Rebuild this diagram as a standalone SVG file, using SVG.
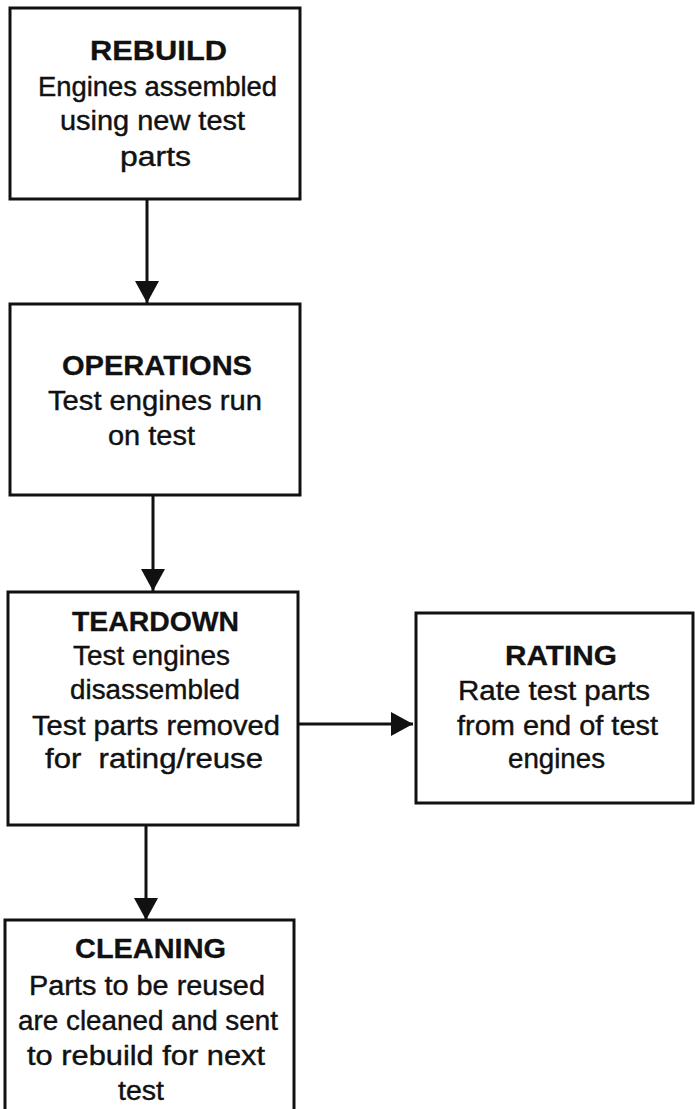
<svg xmlns="http://www.w3.org/2000/svg" width="695" height="1109" viewBox="0 0 695 1109">
<style>
.box{fill:#fff;stroke:#111;stroke-width:3}
.t{font-family:"Liberation Sans",Arial,sans-serif;font-size:27px;fill:#111;stroke:#111;stroke-width:0.4;text-anchor:middle}
.h{font-weight:bold;stroke-width:0.3}
.c{stroke:#111;stroke-width:3;fill:none}
</style>
<defs>
<marker id="ah" markerUnits="userSpaceOnUse" markerWidth="24" markerHeight="24" viewBox="0 0 24 24" refX="22" refY="12" orient="auto">
<path d="M0,0 L22,12 L0,24 Z" fill="#111"/>
</marker>
</defs>
<rect width="695" height="1109" fill="#fff"/>
<g id="connectors">
<line class="c" x1="147" y1="200" x2="147" y2="303" marker-end="url(#ah)"/>
<line class="c" x1="153" y1="495" x2="153" y2="591" marker-end="url(#ah)"/>
<line class="c" x1="298" y1="724" x2="413" y2="724" marker-end="url(#ah)"/>
<line class="c" x1="146" y1="825" x2="146" y2="920" marker-end="url(#ah)"/>
</g>
<g id="rebuild">
<rect class="box" x="10" y="8" width="290" height="191"/>
<text class="t h" x="158.5" y="60" textLength="137" lengthAdjust="spacingAndGlyphs">REBUILD</text>
<text class="t" x="157.5" y="95.5" textLength="239" lengthAdjust="spacingAndGlyphs">Engines assembled</text>
<text class="t" x="152.5" y="130" textLength="185" lengthAdjust="spacingAndGlyphs">using new test</text>
<text class="t" x="155.5" y="166" textLength="71" lengthAdjust="spacingAndGlyphs">parts</text>
</g>
<g id="operations">
<rect class="box" x="10" y="304" width="290" height="191"/>
<text class="t h" x="157" y="375" textLength="190" lengthAdjust="spacingAndGlyphs">OPERATIONS</text>
<text class="t" x="155" y="410" textLength="214" lengthAdjust="spacingAndGlyphs">Test engines run</text>
<text class="t" x="151.5" y="445" textLength="87" lengthAdjust="spacingAndGlyphs">on test</text>
</g>
<g id="teardown">
<rect class="box" x="8" y="592" width="290" height="233"/>
<text class="t h" x="155.5" y="631" textLength="167" lengthAdjust="spacingAndGlyphs">TEARDOWN</text>
<text class="t" x="151.5" y="665" textLength="157" lengthAdjust="spacingAndGlyphs">Test engines</text>
<text class="t" x="155" y="699" textLength="170" lengthAdjust="spacingAndGlyphs">disassembled</text>
<text class="t" x="156" y="735" textLength="248" lengthAdjust="spacingAndGlyphs">Test parts removed</text>
<text class="t" x="154" y="768" textLength="218" lengthAdjust="spacingAndGlyphs" xml:space="preserve">for  rating/reuse</text>
</g>
<g id="rating">
<rect class="box" x="416" y="613" width="277" height="190"/>
<text class="t h" x="561" y="665" textLength="112" lengthAdjust="spacingAndGlyphs">RATING</text>
<text class="t" x="554" y="700" textLength="192" lengthAdjust="spacingAndGlyphs">Rate test parts</text>
<text class="t" x="557.5" y="735" textLength="201" lengthAdjust="spacingAndGlyphs">from end of test</text>
<text class="t" x="556.5" y="768" textLength="97" lengthAdjust="spacingAndGlyphs">engines</text>
</g>
<g id="cleaning">
<rect class="box" x="5" y="920" width="289" height="200"/>
<text class="t h" x="150.5" y="958" textLength="151" lengthAdjust="spacingAndGlyphs">CLEANING</text>
<text class="t" x="147" y="995" textLength="236" lengthAdjust="spacingAndGlyphs">Parts to be reused</text>
<text class="t" x="148" y="1030" textLength="260" lengthAdjust="spacingAndGlyphs">are cleaned and sent</text>
<text class="t" x="146" y="1065" textLength="238" lengthAdjust="spacingAndGlyphs">to rebuild for next</text>
<text class="t" x="141" y="1100" textLength="46" lengthAdjust="spacingAndGlyphs">test</text>
</g>
</svg>
